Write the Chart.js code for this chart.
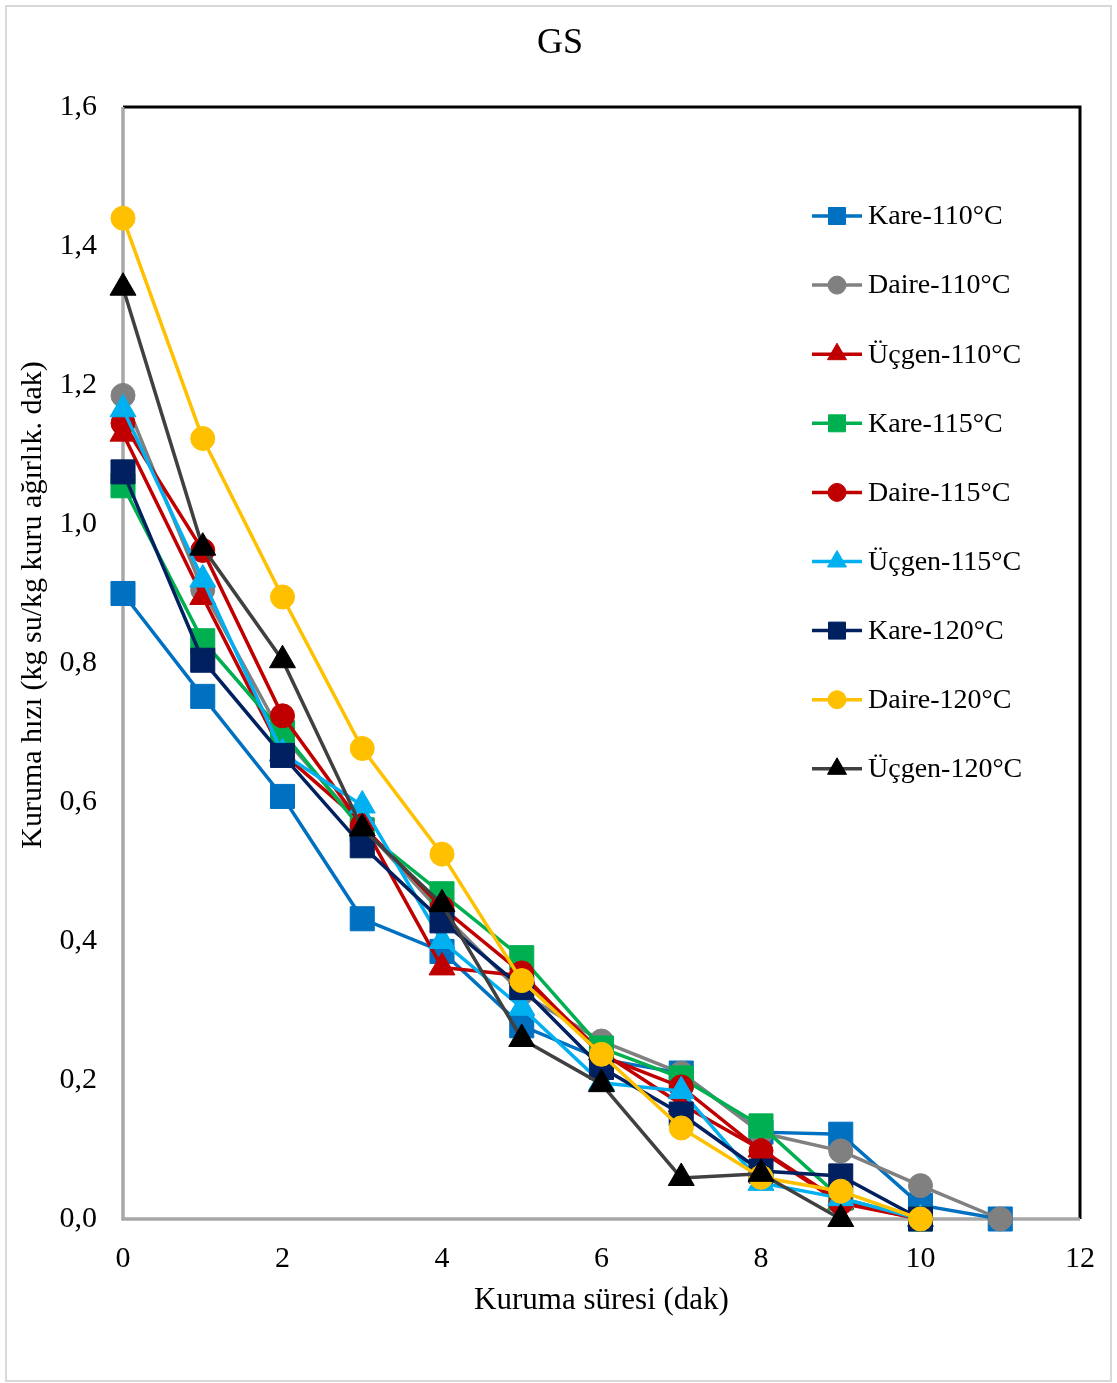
<!DOCTYPE html>
<html>
<head>
<meta charset="utf-8">
<title>GS</title>
<script src="https://cdn.jsdelivr.net/npm/chart.js@4.4.1/dist/chart.umd.min.js"></script>
<style>
  html, body { margin: 0; padding: 0; background: #fff; }
  #wrap { width: 1117px; height: 1383px; }
</style>
</head>
<body>
<div id="wrap"><canvas id="canvas" width="1117" height="1383"></canvas></div>
<script>
// Kuruma süresi (dak)
const minutes = [0, 1, 2, 3, 4, 5, 6, 7, 8, 9, 10, 11];
const xTicks = [0, 2, 4, 6, 8, 10, 12];
const yTicks = [0, 0.2, 0.4, 0.6, 0.8, 1.0, 1.2, 1.4, 1.6];

const labels = [
  "Kare-110°C", "Daire-110°C", "Üçgen-110°C",
  "Kare-115°C", "Daire-115°C", "Üçgen-115°C",
  "Kare-120°C", "Daire-120°C", "Üçgen-120°C"
];

// kuruma hızı (kg su/kg kuru ağırlık. dak)
const kare110   = [0.900, 0.752, 0.608, 0.432, 0.385, 0.278, 0.230, 0.210, 0.125, 0.122, 0.020, 0];
const daire110  = [1.185, 0.905, 0.695, 0.565, 0.440, 0.325, 0.256, 0.210, 0.124, 0.098, 0.048, 0];
const ucgen110  = [1.130, 0.895, 0.670, 0.570, 0.362, 0.350, 0.240, 0.165, 0.100, 0.025, 0];
const kare115   = [1.055, 0.832, 0.700, 0.560, 0.468, 0.376, 0.246, 0.203, 0.134, 0.030, 0];
const daire115  = [1.145, 0.962, 0.724, 0.566, 0.448, 0.354, 0.235, 0.190, 0.098, 0.023, 0];
const ucgen115  = [1.165, 0.920, 0.670, 0.595, 0.400, 0.304, 0.196, 0.184, 0.052, 0.030, 0];
const kare120   = [1.075, 0.804, 0.667, 0.537, 0.429, 0.333, 0.218, 0.151, 0.069, 0.062, 0];
const daire120  = [1.440, 1.123, 0.895, 0.677, 0.525, 0.343, 0.237, 0.131, 0.060, 0.040, 0];
const ucgen120  = [1.340, 0.966, 0.804, 0.562, 0.453, 0.259, 0.194, 0.059, 0.065, 0];

const seriesValues = [kare110, daire110, ucgen110, kare115, daire115, ucgen115, kare120, daire120, ucgen120];
const lineColors   = ["#0070C0", "#808080", "#C00000", "#00B050", "#C00000", "#00B0F0", "#002060", "#FFC000", "#404040"];
const markColors   = ["#0070C0", "#808080", "#C00000", "#00B050", "#C00000", "#00B0F0", "#002060", "#FFC000", "#000000"];
const markers      = ["rect", "circle", "triangle", "rect", "circle", "triangle", "rect", "circle", "triangle"];

const FONT = "'Liberation Serif', 'Times New Roman', serif";

function markerRadius(style) {
  if (style === "rect") return 17;
  if (style === "triangle") return 15;
  return 12;
}

const datasets = seriesValues.map((vals, i) => ({
  label: labels[i],
  data: vals.map((v, k) => ({ x: minutes[k], y: v })),
  borderColor: lineColors[i],
  backgroundColor: markColors[i],
  pointBackgroundColor: markColors[i],
  pointBorderColor: markColors[i],
  pointBorderWidth: 1,
  pointStyle: markers[i],
  pointRadius: markerRadius(markers[i]),
  pointHoverRadius: markerRadius(markers[i]),
  borderWidth: 3.5,
  tension: 0,
  clip: false,
  order: seriesValues.length - i
}));

// frame, titles and the legend inside the plot
const decorations = {
  id: "decorations",
  beforeDraw(chart) {
    const ctx = chart.ctx;
    ctx.save();
    ctx.fillStyle = "#fff";
    ctx.fillRect(0, 0, chart.width, chart.height);
    ctx.strokeStyle = "#d9d9d9";
    ctx.lineWidth = 2;
    ctx.strokeRect(6, 6, chart.width - 12, chart.height - 8);
    ctx.restore();
  },
  beforeDatasetsDraw(chart) {
    const { ctx, chartArea: a } = chart;
    ctx.save();
    // top and right border
    ctx.strokeStyle = "#000";
    ctx.lineWidth = 3;
    ctx.beginPath();
    ctx.moveTo(a.left, a.top);
    ctx.lineTo(a.right, a.top);
    ctx.lineTo(a.right, a.bottom);
    ctx.stroke();
    // axis lines
    ctx.strokeStyle = "#7f7f7f";
    ctx.lineWidth = 3;
    ctx.beginPath();
    ctx.moveTo(a.left, a.top);
    ctx.lineTo(a.left, a.bottom);
    ctx.lineTo(a.right, a.bottom);
    ctx.stroke();
    ctx.strokeStyle = "#d0d0d0";
    ctx.lineWidth = 1;
    ctx.beginPath();
    ctx.moveTo(a.left, a.top);
    ctx.lineTo(a.left, a.bottom);
    ctx.lineTo(a.right, a.bottom);
    ctx.stroke();
    ctx.restore();
  },
  afterDraw(chart) {
    const { ctx, chartArea: a } = chart;
    ctx.save();
    ctx.fillStyle = "#000";
    ctx.textAlign = "center";
    ctx.textBaseline = "middle";

    ctx.font = "36px " + FONT;
    ctx.fillText("GS", 560, 44);

    ctx.font = "31px " + FONT;
    ctx.fillText("Kuruma süresi (dak)", (a.left + a.right) / 2, 1301);

    ctx.save();
    ctx.translate(33, 605);
    ctx.rotate(-Math.PI / 2);
    ctx.font = "30px " + FONT;
    ctx.fillText("Kuruma hızı (kg su/kg kuru ağırlık. dak)", 0, 0);
    ctx.restore();

    // legend
    ctx.font = "28px " + FONT;
    ctx.textAlign = "left";
    chart.data.datasets.forEach((ds, i) => {
      const y = 216 + i * 69.1;
      ctx.strokeStyle = ds.borderColor;
      ctx.lineWidth = 3.5;
      ctx.beginPath();
      ctx.moveTo(812, y);
      ctx.lineTo(862, y);
      ctx.stroke();
      const r = markers[i] === "rect" ? 12 : markers[i] === "triangle" ? 11 : 9;
      ctx.fillStyle = markColors[i];
      ctx.strokeStyle = markColors[i];
      ctx.lineWidth = 1;
      Chart.helpers.drawPoint(ctx, {
        pointStyle: markers[i], radius: r, rotation: 0, borderWidth: 1
      }, 837, y);
      ctx.fillStyle = "#000";
      ctx.fillText(ds.label, 868, y + 1);
    });
    ctx.restore();
  }
};

new Chart(document.getElementById("canvas"), {
  type: "line",
  data: { datasets },
  options: {
    responsive: false,
    animation: false,
    events: [],
    layout: { padding: { top: 107, left: 0, right: 34, bottom: 85 } },
    plugins: {
      legend: { display: false },
      title: { display: false },
      tooltip: { enabled: false }
    },
    scales: {
      x: {
        type: "linear",
        min: 0,
        max: 12,
        grid: { display: false, drawTicks: false },
        border: { display: false },
        afterBuildTicks: (scale) => { scale.ticks = xTicks.map(v => ({ value: v })); },
        afterFit: (scale) => { scale.height = 79; },
        ticks: {
          padding: 22,
          color: "#000",
          font: { family: FONT, size: 30 },
          callback: (v) => String(v)
        }
      },
      y: {
        type: "linear",
        min: 0,
        max: 1.6,
        grid: { display: false, drawTicks: false },
        border: { display: false },
        afterBuildTicks: (scale) => { scale.ticks = yTicks.map(v => ({ value: v })); },
        afterFit: (scale) => { scale.width = 123; },
        ticks: {
          padding: 26,
          color: "#000",
          font: { family: FONT, size: 30 },
          callback: (v) => Number(v).toFixed(1).replace(".", ",")
        }
      }
    }
  },
  plugins: [decorations]
});
</script>
</body>
</html>
